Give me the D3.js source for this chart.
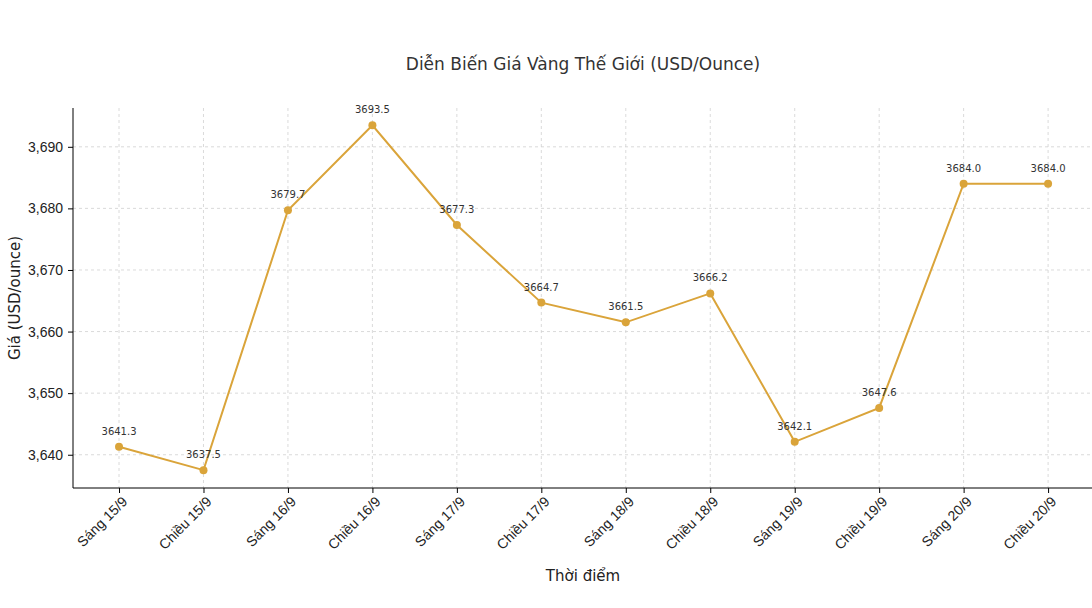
<!DOCTYPE html>
<html><head><meta charset="utf-8">
<script src="https://cdn.jsdelivr.net/npm/d3@7"></script>
<style>body{margin:0;background:#fff;font-family:"DejaVu Sans",sans-serif;}</style>
</head><body>
<svg width="1092" height="608"></svg>
<script>
// Chart data
const labels = ["Sáng 15/9","Chiều 15/9","Sáng 16/9","Chiều 16/9","Sáng 17/9","Chiều 17/9",
  "Sáng 18/9","Chiều 18/9","Sáng 19/9","Chiều 19/9","Sáng 20/9","Chiều 20/9"];
const prices = [3641.3,3637.5,3679.7,3693.5,3677.3,3664.7,3661.5,3666.2,3642.1,3647.6,3684.0,3684.0];
const yTicks = [3640,3650,3660,3670,3680,3690];

const svg = d3.select("svg");
const plotLeft = 73, plotRight = 1092, plotTop = 108, plotBottom = 488;
const color = "#DAA43A";

const x = d3.scaleLinear().domain([-0.545, 11.52]).range([plotLeft, plotRight]);
const y = d3.scaleLinear().domain([3634.6, 3696.3]).range([plotBottom, plotTop]);

// Grid lines
svg.append("g").selectAll("line").data(yTicks).join("line")
  .attr("x1", plotLeft).attr("x2", plotRight).attr("y1", d => y(d)).attr("y2", d => y(d))
  .attr("stroke", "#d0d0d0").attr("stroke-dasharray", "3,3").attr("stroke-width", 0.8);
svg.append("g").selectAll("line").data(labels).join("line")
  .attr("y1", plotTop).attr("y2", plotBottom).attr("x1", (d, i) => x(i)).attr("x2", (d, i) => x(i))
  .attr("stroke", "#d0d0d0").attr("stroke-dasharray", "3,3").attr("stroke-width", 0.8);

// Axes
const yAxis = svg.append("g").attr("transform", `translate(${plotLeft},0)`)
  .call(d3.axisLeft(y).tickValues(yTicks).tickSize(5).tickPadding(5));
yAxis.selectAll("text").attr("font-size", 14).attr("fill", "#222");
yAxis.select(".domain").attr("d", `M0,${plotTop}V${plotBottom}`);

const xAxis = svg.append("g").attr("transform", `translate(0,${plotBottom})`)
  .call(d3.axisBottom(x).tickValues(d3.range(labels.length)).tickFormat(i => labels[i]).tickSize(5));
xAxis.select(".domain").attr("d", `M${plotLeft},0H${plotRight}`);
xAxis.selectAll("text").attr("font-size", 14).attr("fill", "#222")
  .attr("text-anchor", "end").attr("dx", "-0.3em").attr("dy", "0.6em")
  .attr("transform", "rotate(-45)");

// Line and points
svg.append("path").datum(prices)
  .attr("d", d3.line().x((d, i) => x(i)).y(d => y(d)))
  .attr("fill", "none").attr("stroke", color).attr("stroke-width", 2);
svg.append("g").selectAll("circle").data(prices).join("circle")
  .attr("cx", (d, i) => x(i)).attr("cy", d => y(d)).attr("r", 4).attr("fill", color);
svg.append("g").selectAll("text").data(prices).join("text")
  .attr("x", (d, i) => x(i)).attr("y", d => y(d) - 12)
  .attr("text-anchor", "middle").attr("font-size", 10).attr("fill", "#333")
  .text(d => d.toFixed(1));

// Titles
svg.append("text").attr("x", 583).attr("y", 70).attr("text-anchor", "middle")
  .attr("font-size", 17).attr("fill", "#333").text("Diễn Biến Giá Vàng Thế Giới (USD/Ounce)");
svg.append("text").attr("x", 583).attr("y", 581).attr("text-anchor", "middle")
  .attr("font-size", 15).attr("fill", "#222").text("Thời điểm");
svg.append("text").attr("transform", `translate(20,${(plotTop + plotBottom) / 2}) rotate(-90)`)
  .attr("text-anchor", "middle").attr("font-size", 15).attr("fill", "#222").text("Giá (USD/ounce)");
</script>
</body></html>
